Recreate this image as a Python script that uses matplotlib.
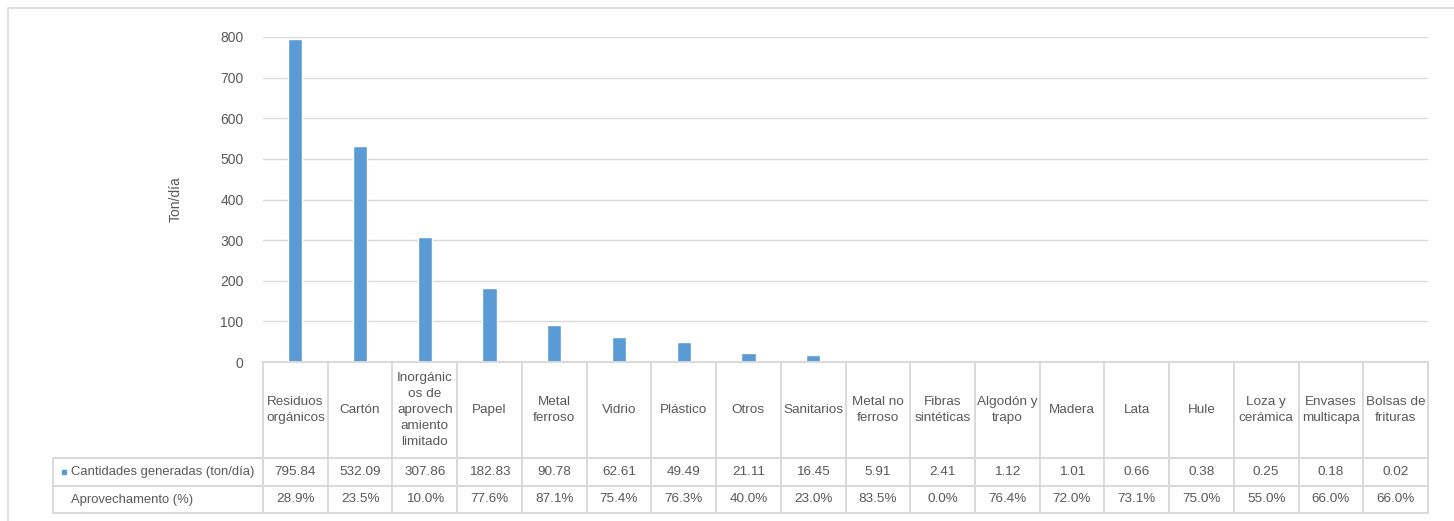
import matplotlib
matplotlib.use("Agg")
import matplotlib.pyplot as plt
from matplotlib import font_manager
from matplotlib.transforms import blended_transform_factory
from matplotlib.patches import Rectangle
from matplotlib.lines import Line2D

# ---------------- data ----------------
categories = ["Residuos\norgánicos", "Cartón", "Inorgánic\nos de\naprovech\namiento\nlimitado",
              "Papel", "Metal\nferroso", "Vidrio", "Plástico", "Otros", "Sanitarios",
              "Metal no\nferroso", "Fibras\nsintéticas", "Algodón y\ntrapo", "Madera",
              "Lata", "Hule", "Loza y\ncerámica", "Envases\nmulticapa", "Bolsas de\nfrituras"]
cantidades = [795.84, 532.09, 307.86, 182.83, 90.78, 62.61, 49.49, 21.11, 16.45,
              5.91, 2.41, 1.12, 1.01, 0.66, 0.38, 0.25, 0.18, 0.02]
aprovechamiento = [28.9, 23.5, 10.0, 77.6, 87.1, 75.4, 76.3, 40.0, 23.0,
                   83.5, 0.0, 76.4, 72.0, 73.1, 75.0, 55.0, 66.0, 66.0]
series_names = ["Cantidades generadas (ton/día)", "Aprovechamento (%)"]
y_ticks = [0, 100, 200, 300, 400, 500, 600, 700, 800]
y_label = "Ton/día"

# ---------------- style ----------------
avail = {f.name for f in font_manager.fontManager.ttflist}
if "Liberation Sans Narrow" in avail:
    TFONT, TSIZE, LSIZE = "Liberation Sans Narrow", 11.3, 11.3
else:
    TFONT, TSIZE, LSIZE = "Liberation Sans", 9.7, 9.4
AFONT = "Liberation Sans" if "Liberation Sans" in avail else "DejaVu Sans"
TXT = "#595959"
GRID = "#d9d9d9"
BAR = "#5b9bd5"

W, H = 1454, 521
fig = plt.figure(figsize=(W / 100, H / 100), dpi=100)
fig.patch.set_facecolor("white")

def fx(px):
    return px / W

def fy(py):  # py measured from top
    return 1 - py / H

# outer frame
fig.patches.append(Rectangle((fx(8), -0.1), 1.2, fy(8) + 0.1, transform=fig.transFigure,
                             fill=False, edgecolor=GRID, lw=1.2))

left, right, top, bottom = 263, 1428, 37, 362
ax = fig.add_axes([fx(left), fy(bottom), fx(right - left), (bottom - top) / H])
n = len(categories)
xs = list(range(n))
ax.bar(xs, cantidades, width=0.22, color=BAR, edgecolor="white", linewidth=1.0, zorder=3)
ax.set_xlim(-0.5, n - 0.5)
ax.set_ylim(0, 800)
ax.set_yticks(y_ticks)
ax.set_yticklabels([str(t) for t in y_ticks], fontfamily=AFONT, fontsize=10, color=TXT)
ax.tick_params(axis="y", length=0, pad=14)
ax.set_xticks([])
ax.grid(axis="y", color=GRID, lw=1.0, zorder=0)
for s in ax.spines.values():
    s.set_visible(False)
ax.set_ylabel(y_label, fontfamily=AFONT, fontsize=10, color=TXT, labelpad=27)

# ---------------- data table ----------------
tr = blended_transform_factory(ax.transData, fig.transFigure)
row_hdr_bot, row1_bot, row2_bot = 458, 486, 513
leg_left = 53

def vline_data(xd, py0, py1):
    fig.add_artist(Line2D([xd, xd], [fy(py0), fy(py1)], transform=tr, color=GRID, lw=1.4,
                          clip_on=False))

# horizontal lines
fig.add_artist(Line2D([-0.5, n - 0.5], [fy(bottom), fy(bottom)], transform=tr, color=GRID, lw=1.4))
for py in (row_hdr_bot, row1_bot, row2_bot):
    fig.add_artist(Line2D([fx(leg_left), fx(right)], [fy(py), fy(py)],
                          transform=fig.transFigure, color=GRID, lw=1.4))
# vertical lines
for i in range(n + 1):
    vline_data(i - 0.5, bottom, row2_bot)
fig.add_artist(Line2D([fx(leg_left), fx(leg_left)], [fy(row_hdr_bot), fy(row2_bot)],
                      transform=fig.transFigure, color=GRID, lw=1.4))

hdr_mid = (bottom + row_hdr_bot) / 2
r1_mid = (row_hdr_bot + row1_bot) / 2
r2_mid = (row1_bot + row2_bot) / 2
for i, (c, v, p) in enumerate(zip(categories, cantidades, aprovechamiento)):
    fig.text(i, fy(hdr_mid), c, transform=tr, ha="center", va="center", fontfamily=TFONT,
             fontsize=TSIZE, color=TXT, linespacing=1.45)
    fig.text(i, fy(r1_mid), f"{v:.2f}", transform=tr, ha="center", va="center",
             fontfamily=TFONT, fontsize=TSIZE, color=TXT)
    fig.text(i, fy(r2_mid), f"{p:.1f}%", transform=tr, ha="center", va="center",
             fontfamily=TFONT, fontsize=TSIZE, color=TXT)

# legend column
fig.patches.append(Rectangle((fx(61.5), fy(r1_mid) - 2 / H), 4 / W, 4 / H,
                             transform=fig.transFigure, color=BAR))
fig.text(fx(71), fy(r1_mid), series_names[0], ha="left", va="center", fontfamily=TFONT,
         fontsize=LSIZE, color=TXT)
fig.text(fx(71), fy(r2_mid), series_names[1], ha="left", va="center", fontfamily=TFONT,
         fontsize=LSIZE, color=TXT)

fig.savefig("out.png", dpi=100, facecolor="white")
